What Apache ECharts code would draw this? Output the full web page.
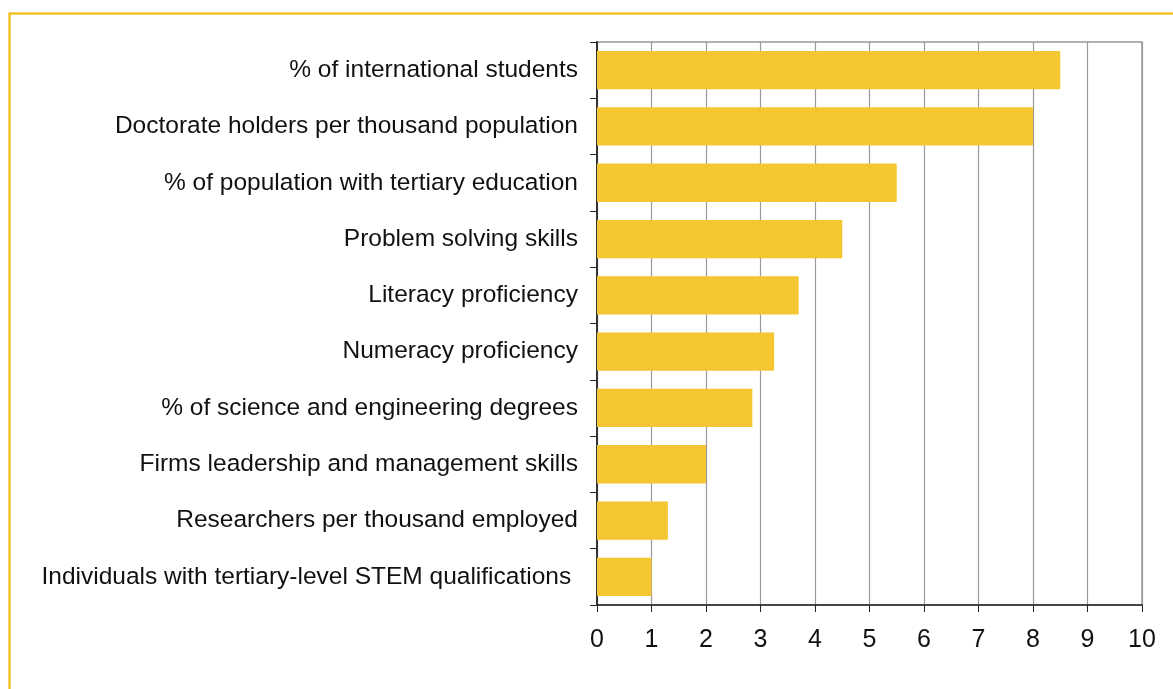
<!DOCTYPE html>
<html>
<head>
<meta charset="utf-8">
<script src="https://cdn.jsdelivr.net/npm/echarts@6/dist/echarts.min.js"></script>
<style>
  html, body { margin: 0; padding: 0; background: #ffffff; }
  #chart { width: 1173px; height: 689px; }
</style>
</head>
<body>
<div id="chart"></div>
<script>
// Indicators, listed bottom to top as the category axis draws them
const categories = [
  'Individuals with tertiary-level STEM qualifications ',
  'Researchers per thousand employed',
  'Firms leadership and management skills',
  '% of science and engineering degrees',
  'Numeracy proficiency',
  'Literacy proficiency',
  'Problem solving skills',
  '% of population with tertiary education',
  'Doctorate holders per thousand population',
  '% of international students'
];
const values = [1.0, 1.3, 2.0, 2.85, 3.25, 3.7, 4.5, 5.5, 8.0, 8.5];
const xMin = 0;
const xMax = 10;
const xStep = 1;

const FONT = "'Liberation Sans', Arial, sans-serif";

const chart = echarts.init(document.getElementById('chart'), null, { renderer: 'canvas' });

chart.setOption({
  animation: false,
  backgroundColor: '#ffffff',
  graphic: [
    {
      type: 'rect',
      left: 7, top: 11,
      shape: { width: 1200, height: 720 },
      style: { fill: 'none', stroke: '#F4C22B', lineWidth: 2.5 },
      silent: true,
      z: 0
    }
  ],
  grid: {
    left: 597, right: 31, top: 42, bottom: 84,
    show: true,
    borderColor: '#999999',
    borderWidth: 1.5,
    backgroundColor: 'transparent'
  },
  xAxis: {
    type: 'value',
    min: xMin, max: xMax, interval: xStep,
    axisLine: { show: true, onZero: false, lineStyle: { color: '#222222', width: 1.5 } },
    axisTick: { show: true, length: 7, lineStyle: { color: '#222222', width: 1 } },
    splitLine: { show: true, lineStyle: { color: '#9a9a9a', width: 1.2 } },
    axisLabel: {
      color: '#111111',
      fontFamily: FONT,
      fontSize: 25,
      margin: 23
    }
  },
  yAxis: {
    type: 'category',
    data: categories,
    axisLine: { show: true, lineStyle: { color: '#333333', width: 2 } },
    axisTick: { show: true, length: 7, lineStyle: { color: '#222222', width: 1 } },
    splitLine: { show: false },
    axisLabel: {
      color: '#111111',
      fontFamily: FONT,
      fontSize: 24.5,
      margin: 19
    }
  },
  series: [
    {
      type: 'bar',
      data: values,
      barWidth: '68%',
      itemStyle: { color: '#F4C631' },
      z: 1
    }
  ]
});
</script>
</body>
</html>
